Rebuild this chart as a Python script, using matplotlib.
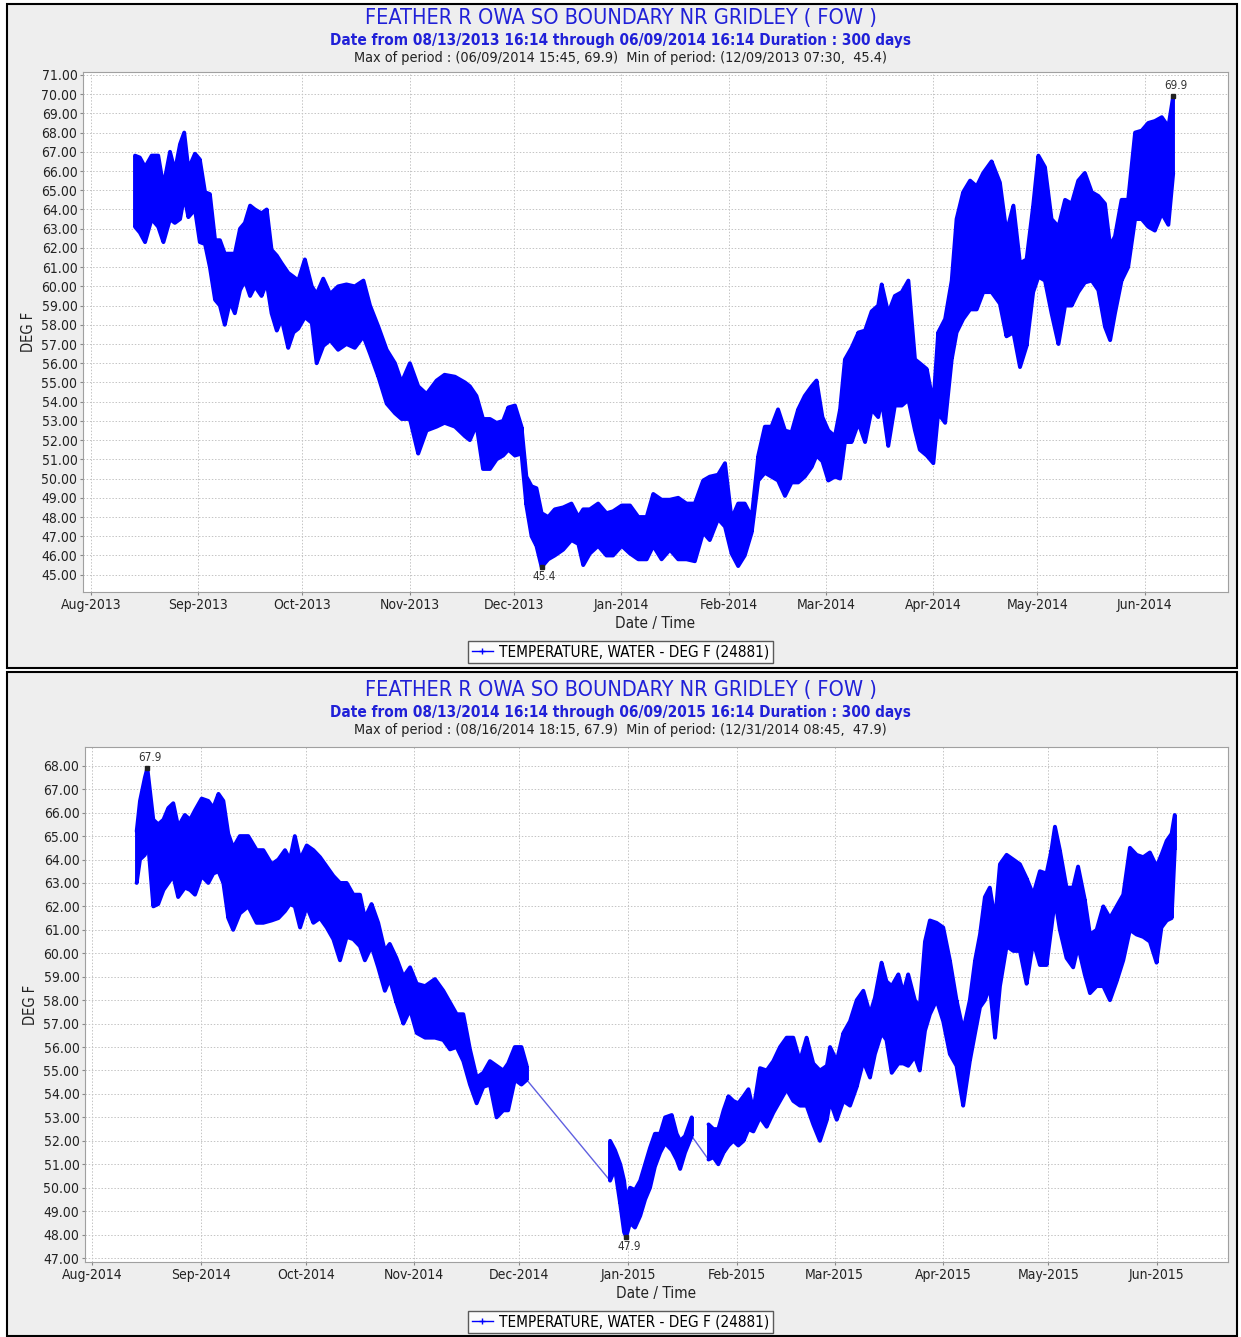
import numpy as np
import pandas as pd
import matplotlib
matplotlib.use("Agg")
import matplotlib.pyplot as plt
import matplotlib.dates as mdates
from matplotlib.patches import Rectangle
from matplotlib.lines import Line2D

plt.rcParams['font.family'] = ['DejaVu Sans']
plt.rcParams['font.stretch'] = 'condensed'

# water temperature, read off the chart as daily-cycle envelopes (hi / lo)
# days counted from Aug 1 of the first year
top_start = "2013-08-01"
top_days = [12.7, 14.1, 15.6, 17.5, 19.4, 20.9, 22.8, 24.2, 25.7, 26.9,
            28.1, 30.0, 31.4, 32.9, 34.3, 35.8, 37.2, 38.6, 40.1, 41.5,
            43.0, 44.4, 45.9, 47.3, 49.2, 50.7, 52.1, 53.6, 55.0, 56.9,
            58.4, 59.8, 61.7, 63.7, 65.1, 67.0, 69.0, 71.3, 73.7, 76.1,
            78.6, 80.5, 82.9, 85.3, 87.7, 89.6, 92.0, 94.4, 96.8, 99.7,
            102.0, 105.0, 107.9, 109.3, 111.2, 113.1, 115.1, 117.0, 118.9, 120.4,
            122.3, 124.2, 125.6, 127.1, 128.5, 130.0, 131.9, 133.8, 136.2, 138.6,
            140.6, 142.0, 143.9, 146.3, 148.7, 150.6, 153.1, 155.5, 157.9, 160.3,
            162.2, 164.6, 167.0, 169.4, 171.8, 174.2, 176.6, 178.5, 180.9, 182.9,
            184.8, 186.7, 188.6, 190.6, 192.5, 194.4, 196.3, 198.2, 200.2, 202.1,
            204.0, 205.9, 207.9, 209.3, 211.0, 212.7, 214.6, 216.1, 217.5, 219.4,
            221.4, 223.3, 225.2, 227.1, 228.1, 230.0, 231.9, 233.9, 235.8, 237.7,
            239.1, 241.1, 243.0, 244.4, 246.4, 248.3, 249.7, 251.6, 253.6, 255.5,
            257.4, 259.8, 262.2, 264.1, 266.1, 268.0, 269.9, 271.8, 273.3, 275.2,
            277.1, 279.1, 281.0, 282.9, 284.8, 286.7, 288.7, 290.6, 292.5, 294.0,
            295.4, 297.3, 299.2, 301.2, 303.1, 305.0, 306.9, 308.9, 310.8, 312.2]
top_hi = [66.8, 66.7, 66.2, 66.8, 66.8, 65.2, 67.0, 66.0, 67.4, 68.0,
          66.1, 66.9, 66.6, 64.9, 64.8, 62.4, 62.4, 61.7, 61.7, 61.7,
          63.0, 63.3, 64.2, 64.0, 63.8, 64.0, 61.9, 61.6, 61.2, 60.7,
          60.5, 60.3, 61.4, 60.0, 59.6, 60.4, 59.6, 60.0, 60.1, 60.0,
          60.3, 59.0, 57.9, 56.7, 56.0, 55.0, 56.0, 54.8, 54.4, 55.1,
          55.4, 55.3, 55.0, 54.8, 54.3, 53.1, 53.1, 52.9, 53.0, 53.7,
          53.8, 52.7, 50.1, 49.6, 49.5, 48.2, 48.0, 48.4, 48.5, 48.7,
          48.0, 48.4, 48.4, 48.7, 48.2, 48.3, 48.6, 48.6, 48.0, 48.0,
          49.2, 48.9, 48.9, 49.0, 48.7, 48.7, 49.9, 50.1, 50.2, 50.8,
          47.9, 48.7, 48.7, 48.0, 51.2, 52.7, 52.7, 53.6, 52.5, 52.4,
          53.6, 54.3, 54.8, 55.1, 53.2, 52.5, 52.2, 53.6, 56.2, 56.8,
          57.6, 57.7, 58.7, 59.0, 60.1, 58.6, 59.5, 59.7, 60.3, 56.2,
          56.0, 55.7, 53.9, 57.6, 58.3, 60.3, 63.5, 64.9, 65.5, 65.2,
          65.9, 66.5, 65.4, 62.8, 64.2, 61.2, 61.4, 64.2, 66.8, 66.2,
          63.5, 63.1, 64.5, 64.3, 65.5, 65.9, 64.9, 64.7, 64.3, 62.1,
          62.6, 64.5, 64.5, 68.0, 68.1, 68.5, 68.6, 68.8, 68.3, 69.9]
top_lo = [63.1, 62.8, 62.3, 63.5, 63.1, 62.3, 63.5, 63.3, 63.5, 64.7,
          63.6, 64.0, 62.3, 62.2, 61.0, 59.3, 59.0, 58.0, 59.2, 58.6,
          59.8, 60.3, 59.5, 60.0, 59.5, 60.2, 58.6, 57.7, 58.3, 56.8,
          57.6, 57.8, 58.4, 58.1, 56.0, 56.9, 57.2, 56.7, 57.0, 56.8,
          57.4, 56.5, 55.3, 53.9, 53.4, 53.1, 53.1, 51.3, 52.5, 52.7,
          52.9, 52.7, 52.2, 52.0, 52.8, 50.5, 50.5, 51.0, 51.2, 51.5,
          51.2, 51.3, 48.6, 47.0, 46.5, 45.4, 45.8, 46.0, 46.3, 46.8,
          46.6, 45.5, 46.1, 46.5, 46.0, 46.0, 46.5, 46.1, 45.8, 45.8,
          46.5, 45.8, 46.3, 45.8, 45.8, 45.7, 47.2, 46.8, 47.9, 47.5,
          46.1, 45.45, 46.0, 47.2, 49.9, 50.3, 50.1, 49.9, 49.1, 49.8,
          49.8, 50.1, 50.6, 51.2, 50.9, 49.9, 50.1, 50.0, 51.9, 51.9,
          52.9, 51.9, 53.6, 53.2, 54.1, 51.7, 53.8, 53.8, 54.1, 52.5,
          51.5, 51.2, 50.8, 53.4, 52.9, 56.2, 57.6, 58.3, 58.8, 58.8,
          59.7, 59.7, 59.1, 57.4, 57.6, 55.8, 56.9, 59.7, 60.5, 60.3,
          58.6, 57.0, 59.0, 59.0, 59.7, 60.2, 60.3, 59.8, 57.9, 57.2,
          58.6, 60.3, 61.0, 63.5, 63.5, 63.1, 62.9, 63.8, 63.2, 65.9]

bot_start = "2014-08-01"
bot_days = [12.75, 13.7, 15.1, 15.8, 17.5, 18.9, 20.4, 21.8, 23.2, 24.6,
            26.5, 28.0, 29.4, 31.3, 33.2, 34.6, 36.1, 37.5, 38.9, 40.3,
            42.2, 44.6, 47.0, 48.9, 51.3, 53.2, 55.1, 56.5, 57.9, 59.4,
            61.3, 63.2, 65.1, 67.0, 68.9, 70.8, 72.7, 74.6, 76.5, 77.9,
            79.8, 81.7, 83.6, 85.0, 86.9, 88.9, 90.8, 92.7, 95.1, 97.9,
            100.3, 102.2, 104.1, 106.0, 107.9, 109.8, 111.7, 113.6, 115.5, 117.4,
            118.8, 120.7, 122.6, 124.1, 147.9, 149.3, 150.8, 151.9, 152.5, 153.6,
            155.0, 156.5, 157.9, 159.3, 160.7, 162.2, 163.6, 165.5, 166.9, 167.9,
            169.3, 171.2, 176.0, 177.4, 178.8, 180.3, 181.7, 183.1, 184.5, 186.0,
            187.4, 188.8, 190.7, 192.6, 194.5, 196.4, 198.3, 200.2, 202.1, 204.0,
            205.9, 207.8, 209.8, 210.7, 212.6, 214.5, 216.4, 218.3, 220.2, 222.1,
            223.5, 225.4, 226.8, 228.3, 230.2, 231.6, 233.0, 234.9, 236.3, 237.8,
            239.2, 241.1, 243.0, 244.9, 246.8, 248.7, 250.6, 252.1, 253.5, 254.9,
            256.3, 257.8, 259.2, 261.1, 263.0, 264.9, 266.8, 268.7, 270.6, 272.5,
            273.9, 274.9, 276.3, 278.2, 280.1, 281.5, 283.4, 284.9, 286.8, 288.7,
            290.6, 292.5, 294.4, 296.3, 298.2, 300.1, 302.0, 303.9, 305.3, 306.8,
            308.2, 309.1]
bot_hi = [65.2, 66.5, 67.5, 67.9, 65.7, 65.5, 65.7, 66.2, 66.4, 65.4,
          65.9, 65.7, 66.1, 66.6, 66.5, 66.2, 66.8, 66.5, 65.1, 64.5,
          65.0, 65.0, 64.4, 64.4, 63.8, 64.0, 64.4, 64.0, 65.0, 64.0,
          64.6, 64.4, 64.1, 63.7, 63.3, 63.0, 63.0, 62.5, 62.5, 61.5,
          62.1, 61.3, 60.1, 60.4, 59.8, 59.0, 59.4, 58.7, 58.6, 58.9,
          58.4, 57.9, 57.4, 57.4, 55.9, 54.7, 54.9, 55.4, 55.2, 55.0,
          55.3, 56.0, 56.0, 55.2, 52.0, 51.6, 51.0, 50.3, 49.5, 50.0,
          49.9, 50.3, 51.0, 51.7, 52.3, 52.3, 53.0, 53.1, 52.3, 52.0,
          52.2, 53.0, 52.7, 52.5, 52.5, 53.3, 53.9, 53.7, 53.6, 53.9,
          54.2, 53.3, 55.1, 55.0, 55.4, 56.0, 56.4, 56.4, 55.4, 56.4,
          55.3, 55.0, 55.2, 56.0, 55.4, 56.6, 57.1, 58.0, 58.4, 57.4,
          58.1, 59.6, 58.8, 58.6, 59.1, 58.3, 59.1, 58.0, 57.7, 60.5,
          61.4, 61.3, 61.1, 59.7, 58.0, 56.7, 58.0, 59.7, 60.8, 62.4,
          62.8, 61.4, 63.8, 64.2, 64.0, 63.8, 63.2, 62.5, 63.5, 63.4,
          64.4, 65.4, 64.4, 62.8, 62.8, 63.7, 62.3, 60.8, 61.0, 62.0,
          61.5, 62.0, 62.5, 64.5, 64.2, 64.1, 64.3, 63.7, 64.2, 64.8,
          65.1, 65.9]
bot_lo = [63.0, 64.0, 64.2, 65.1, 62.0, 62.1, 62.7, 63.0, 63.3, 62.4,
          62.8, 62.7, 62.5, 63.3, 63.0, 63.4, 63.5, 63.0, 61.5, 61.0,
          61.7, 62.0, 61.3, 61.3, 61.4, 61.5, 61.8, 62.1, 62.0, 61.1,
          62.0, 61.3, 61.5, 61.1, 60.6, 59.7, 60.7, 60.6, 60.3, 59.7,
          60.3, 59.4, 58.4, 58.9, 57.9, 57.0, 57.6, 56.6, 56.4, 56.4,
          56.3, 55.9, 56.0, 55.4, 54.4, 53.6, 54.3, 54.4, 53.0, 53.3,
          53.3, 54.6, 54.4, 54.6, 50.3, 50.8, 49.3, 48.1, 47.9, 48.5,
          48.3, 48.8, 49.5, 50.0, 50.9, 51.5, 51.9, 51.6, 51.2, 50.8,
          51.5, 52.2, 51.2, 51.3, 51.0, 51.5, 51.8, 52.0, 51.8, 52.0,
          52.5, 52.4, 53.0, 52.6, 53.2, 53.7, 54.2, 53.7, 53.5, 53.5,
          52.7, 52.0, 52.9, 53.7, 52.9, 53.7, 53.5, 54.3, 55.4, 54.7,
          55.7, 56.6, 56.3, 54.9, 55.3, 55.3, 55.2, 55.6, 55.0, 56.7,
          57.4, 58.0, 57.1, 55.7, 55.2, 53.5, 55.4, 56.6, 57.7, 58.0,
          58.6, 56.4, 58.6, 60.3, 60.1, 60.1, 58.7, 60.5, 59.5, 59.5,
          61.1, 62.3, 61.0, 59.8, 59.4, 60.3, 59.1, 58.3, 58.6, 58.6,
          58.0, 58.8, 59.7, 61.0, 60.8, 60.7, 60.5, 59.6, 61.1, 61.4,
          61.5, 64.4]

station = "FEATHER R OWA SO BOUNDARY NR GRIDLEY ( FOW )"
top_sub = "Date from 08/13/2013 16:14 through 06/09/2014 16:14 Duration : 300 days"
top_stats = "Max of period : (06/09/2014 15:45, 69.9)  Min of period: (12/09/2013 07:30,  45.4)"
bot_sub = "Date from 08/13/2014 16:14 through 06/09/2015 16:14 Duration : 300 days"
bot_stats = "Max of period : (08/16/2014 18:15, 67.9)  Min of period: (12/31/2014 08:45,  47.9)"
legend_label = "TEMPERATURE, WATER - DEG F (24881)"

W, H = 1241, 1337
BLUE = "#0000ff"
TITLE_BLUE = "#2020d8"


def fx(px):
    return px / W


def fy(py):
    return 1 - py / H


def draw_panel(fig, rect, start, days, hi, lo, xlim, ylim, sub, stats, ty):
    base = pd.Timestamp(start)
    t = base + pd.to_timedelta(np.array(days), unit="D")
    hi = np.array(hi)
    lo = np.array(lo)

    fig.text(0.5, fy(ty), station, ha="center", va="center", color=TITLE_BLUE, fontsize=15.6)
    fig.text(0.5, fy(ty + 22), sub, ha="center", va="center", color=TITLE_BLUE,
             fontsize=11, fontweight="bold")
    fig.text(0.5, fy(ty + 40), stats, ha="center", va="center", color="#222222", fontsize=10.4)

    ax = fig.add_axes(rect)
    ax.set_facecolor("white")

    # split where the record has holes; holes are bridged with a thin line
    d = np.array(days)
    cuts = np.where(np.diff(d) > 3.5)[0] + 1
    segs = np.split(np.arange(len(d)), cuts)
    for a, b in zip(segs[:-1], segs[1:]):
        ax.plot([t[a[-1]], t[b[0]]], [lo[a[-1]], lo[b[0]]], color="#6060e0", lw=1, zorder=2)
    for s in segs:
        ax.fill_between(t[s], lo[s], hi[s], color=BLUE, lw=0, zorder=3)
        ax.plot(t[s], hi[s], color=BLUE, lw=2.8, solid_joinstyle="round",
                solid_capstyle="round", zorder=3)
        ax.plot(t[s], lo[s], color=BLUE, lw=2.8, solid_joinstyle="round",
                solid_capstyle="round", zorder=3)
        ax.vlines(t[s], lo[s], hi[s], color=BLUE, lw=2.8, zorder=3)

    imax = int(np.argmax(hi))
    imin = int(np.argmin(lo))
    ax.plot(t[imax], hi[imax], marker="s", ms=3.5, color="#222222", zorder=5)
    ax.plot(t[imin], lo[imin], marker="s", ms=3.5, color="#222222", zorder=5)
    ax.annotate(f"{hi[imax]:.1f}", (t[imax], hi[imax]), xytext=(2, 3), textcoords="offset points",
                ha="center", va="bottom", fontsize=8.5, color="#333333", zorder=6)
    ax.annotate(f"{lo[imin]:.1f}", (t[imin], lo[imin]), xytext=(2, -2), textcoords="offset points",
                ha="center", va="top", fontsize=8.5, color="#333333", zorder=6)

    ax.set_xlim(base + pd.Timedelta(days=xlim[0]), base + pd.Timedelta(days=xlim[1]))
    ax.set_ylim(*ylim)
    ax.xaxis.set_major_locator(mdates.MonthLocator())
    ax.xaxis.set_major_formatter(mdates.DateFormatter("%b-%Y"))
    ax.set_yticks(np.arange(int(np.ceil(ylim[0])), int(ylim[1]) + 1, 1))
    ax.yaxis.set_major_formatter(matplotlib.ticker.FormatStrFormatter("%.2f"))
    ax.grid(True, color="#c4c4c4", linestyle=(0, (1.5, 1.8)), lw=0.7, zorder=0)
    ax.set_axisbelow(True)
    for sp in ax.spines.values():
        sp.set_color("#a0a0a0")
        sp.set_linewidth(0.8)
    ax.tick_params(direction="out", length=2, color="#888888", labelsize=10,
                   labelcolor="#222222", pad=2)
    ax.set_xlabel("Date / Time", fontsize=11, color="#222222", labelpad=3)
    ax.set_ylabel("DEG F", fontsize=10.5, color="#222222", labelpad=4)
    return ax


fig = plt.figure(figsize=(W / 100, H / 100), dpi=100)
fig.patch.set_facecolor("white")

# panel backgrounds
fig.add_artist(Rectangle((fx(7), fy(668)), fx(1230), 664 / H, transform=fig.transFigure,
                         fc="#eeeeee", ec="black", lw=1.5, zorder=-5))
fig.add_artist(Rectangle((fx(7), fy(1336)), fx(1230), 664 / H, transform=fig.transFigure,
                         fc="#eeeeee", ec="black", lw=1.5, zorder=-5))

draw_panel(fig, [fx(83), fy(592), fx(1145), 520 / H], top_start, top_days, top_hi, top_lo,
           (-2.3, 328), (44.1, 71.15), top_sub, top_stats, 18)
draw_panel(fig, [fx(85), fy(1262), fx(1143), 515 / H], bot_start, bot_days, bot_hi, bot_lo,
           (-2.0, 324.3), (46.83, 68.8), bot_sub, bot_stats, 690)

handle = Line2D([], [], color=BLUE, lw=1, marker="+", ms=5, mew=1)
for cy in (652, 1322):
    leg = fig.legend([handle], [legend_label], loc="center", bbox_to_anchor=(0.5, fy(cy)),
                     frameon=True, fancybox=False, fontsize=11, handlelength=1.4,
                     handletextpad=0.4, borderpad=0.25, borderaxespad=0)
    leg.get_frame().set_edgecolor("#333333")
    leg.get_frame().set_linewidth(1.0)

fig.savefig("out.png", dpi=100)
